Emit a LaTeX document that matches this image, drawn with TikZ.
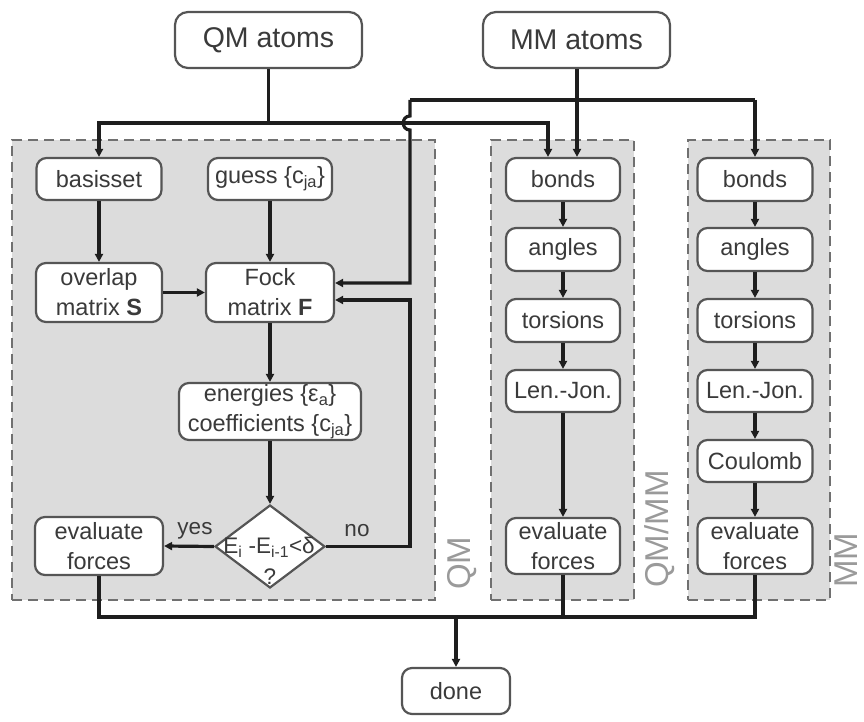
\documentclass[tikz,border=0pt]{standalone}
\usepackage{fontspec}
\setmainfont{Liberation Sans}
\usetikzlibrary{arrows.meta,shapes.geometric}
\definecolor{txt}{HTML}{3A3A3A}
\definecolor{bord}{HTML}{555555}
\definecolor{panelc}{HTML}{DCDCDC}
\definecolor{dashc}{HTML}{707070}
\definecolor{connc}{HTML}{1E1E1E}
\definecolor{labc}{HTML}{9A9A9A}
\begin{document}
\begin{tikzpicture}[x=1pt,y=-1pt,
 wh/.style 2 args={minimum width=#1pt, minimum height=#2pt},
 box/.style={draw=bord, line width=2.2pt, rounded corners=10pt, fill=white, text=txt, inner sep=0pt, font=\fontsize{23.5}{30}\selectfont, align=center},
 bigbox/.style={box, font=\fontsize{28.5}{34}\selectfont, rounded corners=13pt},
 panelbox/.style={draw=dashc, fill=panelc, line width=2.5pt, dash pattern=on 10pt off 6pt, inner sep=0pt},
 conn/.style={draw=connc, line width=3.2pt},
 arr/.style={conn, -{Triangle[length=8pt,width=8pt]}},
 side/.style={text=labc, font=\fontsize{33}{33}\selectfont, rotate=90, anchor=base west, inner sep=0pt},
 small/.style={text=txt, font=\fontsize{22.5}{26}\selectfont, inner sep=0pt}
]
\useasboundingbox (0,0) rectangle (864,722);

% panels
\node[panelbox, wh={423}{460}] (pqm) at (223.5,370) {};
\node[panelbox, wh={143}{460}] (pqmmm) at (562.5,370) {};
\node[panelbox, wh={142}{460}] (pmm) at (759,370) {};
\node[side] (lqm) at (470,590) {QM};
\node[side] (lqmmm) at (668,588) {QM/MM};
\node[side] (lmm) at (857,588) {MM};

% top
\node[bigbox, wh={187}{56}] (qma) at (268.5,40) {QM atoms};
\node[bigbox, wh={187}{56}] (mma) at (576.5,40) {MM atoms};

% QM column
\node[box, wh={125}{42}] (basis) at (99,179) {basisset};
\node[box, wh={124}{42}] (guess) at (270,179) {guess \{c\textsubscript{ja}\}};
\node[box, wh={126}{59}] (overlap) at (99,292.5) {overlap\\matrix \textbf{S}};
\node[box, wh={128}{59}] (fock) at (270,292.5) {Fock\\matrix \textbf{F}};
\node[box, wh={182}{57}] (energ) at (270,411.5) {energies \{ε\textsubscript{a}\}\\coefficients \{c\textsubscript{ja}\}};
\node[draw=bord, line width=2.2pt, fill=white, diamond, wh={110}{83}, inner sep=0pt] (dia) at (270,546.5) {};
\node[small] (dt1) at (269,547) {E\textsubscript{i} -E\textsubscript{i-1}<δ};
\node[small] (dt2) at (270,577) {?};
\node[box, wh={128}{58}] (qeval) at (99,546) {evaluate\\forces};
\node[small] (yes) at (195,531) {yes};
\node[small] (no) at (357,531) {no};

% QM/MM column
\node[box, wh={114}{43}] (qbonds) at (563,179.5) {bonds};
\node[box, wh={114}{43}] (qangles) at (563,249.5) {angles};
\node[box, wh={114}{43}] (qtors) at (563,320.5) {torsions};
\node[box, wh={114}{42}] (qlj) at (563,391) {Len.-Jon.};
\node[box, wh={114}{56}] (qmeval) at (563,546) {evaluate\\forces};

% MM column
\node[box, wh={115}{43}] (mbonds) at (755,179.5) {bonds};
\node[box, wh={115}{43}] (mangles) at (755,249.5) {angles};
\node[box, wh={115}{43}] (mtors) at (755,320.5) {torsions};
\node[box, wh={115}{42}] (mlj) at (755,391) {Len.-Jon.};
\node[box, wh={115}{42}] (mcoul) at (755,461) {Coulomb};
\node[box, wh={115}{56}] (meval) at (755,546) {evaluate\\forces};

% done
\node[box, wh={108}{46}] (done) at (456,691) {done};

% coordinates
\coordinate (jq) at (268.5,123);
\coordinate (jm) at (410,100);
\coordinate (jm2) at (755,100);
\coordinate (jb) at (456,617);

% QM atoms connectors
\draw[conn] (qma.south) -- (jq);
\draw[arr] (jq) -| (basis.north);
\draw[arr] (jq) -| ([xshift=-15pt]qbonds.north);

% MM atoms connectors
\draw[arr] ([xshift=14pt]qbonds.north |- mma.south) -- ([xshift=14pt]qbonds.north);
\draw[conn] (jm) -- (jm2);
\draw[arr] (jm2) -- (mbonds.north);
\draw[arr] (jm) -- (410,116) .. controls (401,116) and (401,130) .. (410,130) -- (410,283) -- ([yshift=9.5pt]fock.east);

% QM internals
\draw[arr] (basis) -- (overlap);
\draw[arr] (guess) -- (fock);
\draw[arr] (overlap) -- (fock);
\draw[arr] (fock) -- (energ);
\draw[arr] (energ) -- (dia);
\draw[arr] (dia.west) -- (qeval.east);
\draw[arr] (dia.east) -- (410,546.5) -- (410,300) -- ([yshift=-7.5pt]fock.east);

% QM/MM internals
\draw[arr] (qbonds) -- (qangles);
\draw[arr] (qangles) -- (qtors);
\draw[arr] (qtors) -- (qlj);
\draw[arr] (qlj) -- (qmeval);

% MM internals
\draw[arr] (mbonds) -- (mangles);
\draw[arr] (mangles) -- (mtors);
\draw[arr] (mtors) -- (mlj);
\draw[arr] (mlj) -- (mcoul);
\draw[arr] (mcoul) -- (meval);

% bottom
\draw[conn] (qeval.south) |- (jb);
\draw[conn] (meval.south) |- (jb);
\draw[conn] (qmeval.south) -- (qmeval.south |- jb);
\draw[arr] (jb) -- (done.north);
\end{tikzpicture}
\end{document}
